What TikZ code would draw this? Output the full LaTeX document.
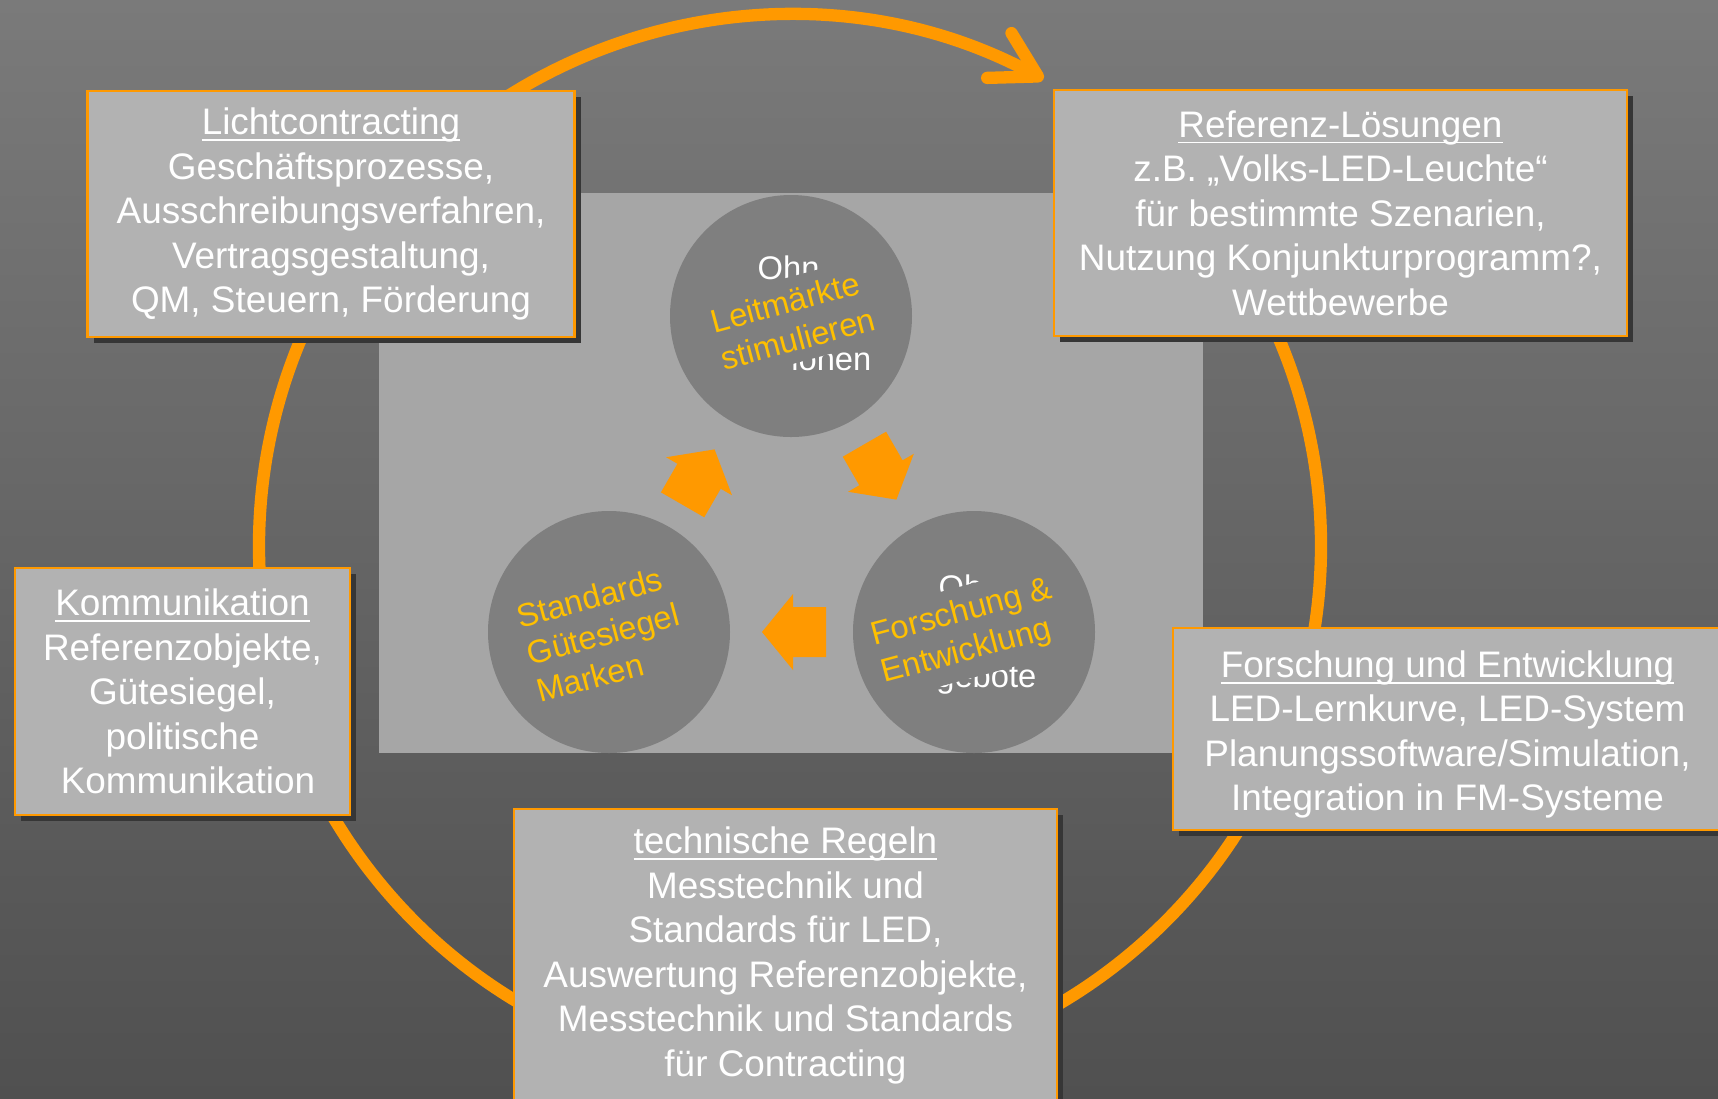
\documentclass[tikz,border=0pt]{standalone}
\usepackage{amsmath}
\usepackage{fontspec}
\setmainfont{Liberation Sans}
\usetikzlibrary{arrows.meta,shadows}
\definecolor{ringorange}{HTML}{FF9900}
\definecolor{bgtop}{HTML}{7A7A7A}
\definecolor{bgbottom}{HTML}{505050}
\definecolor{boxgray}{HTML}{B2B2B2}
\definecolor{panelgray}{HTML}{A6A6A6}
\definecolor{bubblegray}{HTML}{7F7F7F}
\definecolor{labelgold}{HTML}{FFC000}
\definecolor{shadowgray}{HTML}{363636}
\newcommand{\boxhead}[1]{\underline{\smash[b]{#1}}}
\begin{document}
\begin{tikzpicture}[x=0.1mm,y=-0.1mm,
infobox/.style={draw=ringorange,line width=0.6pt,fill=boxgray,text=white,align=center,inner sep=0pt,
  font=\fontsize{10.5}{12.66}\selectfont,
  general shadow={fill=shadowgray,shadow xshift=0.6mm,shadow yshift=-0.6mm}},
bubble/.style={circle,fill=bubblegray,minimum size=24.2mm,inner sep=0pt},
bubbletext/.style={fill=bubblegray,text=labelgold,align=left,rotate=15,inner xsep=0.3mm,inner ysep=1.1mm,
  font=\fontsize{9.3}{11}\selectfont},
hiddentext/.style={text=white,inner sep=0pt,font=\fontsize{9.3}{11}\selectfont}]
\useasboundingbox (0,0) rectangle (1718,1098);
\shade[top color=bgtop,bottom color=bgbottom] (0,0) rectangle (1718,1098);
\coordinate (hub) at (790,546);
\draw[ringorange,line width=3.5pt,-{Straight Barb[length=12.5pt,width=14.5pt,round]}] (hub) ++(-40:531) arc[start angle=-40,end angle=298.5,radius=531];
\fill[panelgray] (379,193) rectangle (1203,753);
\node[infobox,minimum width=48.7mm,minimum height=24.6mm] (licht) at (331,214)
{\boxhead{Lichtcontracting}\\Geschäftsprozesse,\\Ausschreibungsverfahren,\\Vertragsgestaltung,\\QM, Steuern, Förderung};
\node[infobox,minimum width=57.3mm,minimum height=24.6mm] (referenz) at (1340.5,213)
{\boxhead{Referenz-Lösungen}\\z.B. „Volks-LED-Leuchte“\\für bestimmte Szenarien,\\Nutzung Konjunkturprogramm?,\\Wettbewerbe};
\node[infobox,minimum width=33.5mm,minimum height=24.7mm] (kommunikation) at (182.5,691.5)
{\boxhead{Kommunikation}\\Referenzobjekte,\\Gütesiegel,\\politische\\\hspace*{0.3em}Kommunikation};
\node[infobox,minimum width=54.9mm,minimum height=20.2mm] (forschung) at (1447.5,729)
{\rule{0pt}{1.03em}\boxhead{Forschung und Entwicklung}\\LED-Lernkurve, LED-System\\Planungssoftware/Simulation,\\Integration in FM-Systeme};
\node[infobox,minimum width=54.3mm,minimum height=29.3mm] (regeln) at (785.5,955.5)
{\boxhead{technische Regeln}\\Messtechnik und\\Standards für LED,\\Auswertung Referenzobjekte,\\Messtechnik und Standards\\für Contracting};
\node[bubble] (markt) at (791,316) {};
\node[bubble] (siegel) at (609,632) {};
\node[bubble] (forsch) at (974,632) {};
\node[hiddentext,anchor=base west] (ohn) at (757,279) {Ohn};
\node[hiddentext,anchor=base east] (ionen) at (872,370) {ionen};
\node[hiddentext,anchor=base west] (oh) at (938,598) {Oh};
\node[hiddentext,anchor=base east] (gebote) at (1037,687) {gebote};
\node[bubbletext] (markttext) at (793,320) {Leitmärkte\\stimulieren};
\node[bubbletext] (siegeltext) at (603,634) {Standards\\Gütesiegel\\Marken};
\node[bubbletext] (forschtext) at (967,632) {Forschung \&\\Entwicklung};
\coordinate (mitte) at (791,527);
\foreach \a in {0,120,240}
\fill[ringorange,rotate around={\a:(mitte)}] (762,632) -- (793,594) -- (793,607) -- (826,607) -- (826,657) -- (793,657) -- (793,670) -- cycle;
\end{tikzpicture}
\end{document}
